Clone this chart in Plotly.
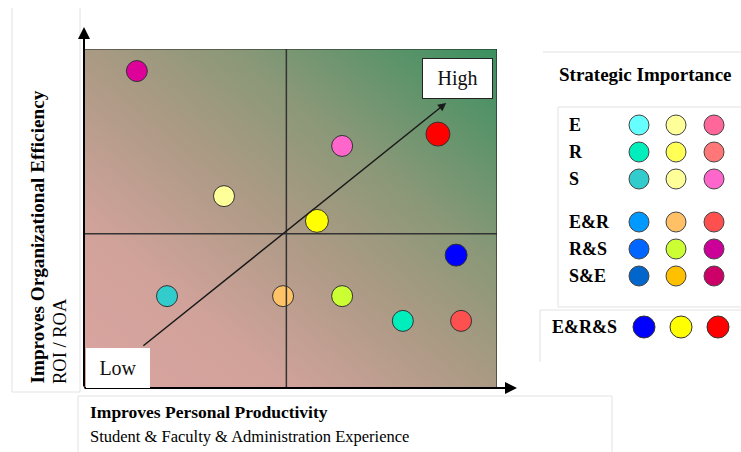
import base64
import plotly.graph_objects as go

W, H = 741, 452

# Initiatives plotted on the two improvement axes (0-10 scale)
point_x = [1.28, 6.25, 8.57, 3.39, 5.64, 9.01, 2.01, 4.82, 6.25, 7.72, 9.13]
point_y = [9.35, 7.14, 7.49, 5.66, 4.93, 3.92, 2.71, 2.71, 2.71, 1.98, 1.98]
point_colors = ["#dd0099", "#ff66cc", "#ff0000", "#ffff99", "#ffff00", "#0000ff",
                "#33cccc", "#ffc266", "#ccff33", "#00eebb", "#ff5050"]
point_sizes = [21, 21, 24, 21, 23, 22, 21, 21, 21, 21, 21]

# Strategic importance key
key_rows = ["E", "R", "S", "E&R", "R&S", "S&E"]
key_colors = [
    ["#66ffff", "#ffff99", "#ff6699"],
    ["#00eebb", "#ffff55", "#ff7777"],
    ["#33cccc", "#ffff99", "#ff66cc"],
    ["#0099ff", "#ffc066", "#ff5050"],
    ["#0066ff", "#ccff33", "#cc0099"],
    ["#0066cc", "#ffc000", "#cc0066"],
]
all_label = "E&R&S"
all_colors = ["#0000ff", "#ffff00", "#ff0000"]

y_title = "Improves Organizational Efficiency"
y_sub = "ROI / ROA"
x_title = "Improves Personal Productivity"
x_sub = "Student & Faculty & Administration Experience"

FONT = "Liberation Serif, Times New Roman, serif"

# plot area in pixels
L, R, T, B = 84, 497, 49, 388


def px(x):
    return x / W


def py(y):
    return 1 - y / H


fig = go.Figure()

# diagonal gradient background from pink (low) to green (high)
svg = (
    '<svg xmlns="http://www.w3.org/2000/svg" width="400" height="400" '
    'preserveAspectRatio="none" viewBox="0 0 400 400">'
    '<defs><linearGradient id="g" x1="0" y1="1" x2="1" y2="0">'
    '<stop offset="0" stop-color="#dba4a0"/>'
    '<stop offset="0.25" stop-color="#d0a29a"/>'
    '<stop offset="0.5" stop-color="#aa9a84"/>'
    '<stop offset="0.68" stop-color="#8a9878"/>'
    '<stop offset="1" stop-color="#3a905f"/>'
    '</linearGradient></defs>'
    '<rect width="400" height="400" fill="url(#g)"/></svg>'
)
src = "data:image/svg+xml;base64," + base64.b64encode(svg.encode()).decode()
fig.add_layout_image(dict(source=src, xref="paper", yref="paper", x=px(L), y=py(T),
                          sizex=px(R) - px(L), sizey=py(T) - py(B), xanchor="left", yanchor="top",
                          sizing="stretch", layer="below", opacity=1))

# quadrant lines
fig.add_shape(type="line", x0=4.9, x1=4.9, y0=0, y1=10, xref="x", yref="y",
              line=dict(color="#333333", width=1.5))
fig.add_shape(type="line", x0=-0.08, x1=10, y0=4.55, y1=4.55, xref="x", yref="y",
              line=dict(color="#333333", width=1.5))
# plot frame
fig.add_shape(type="rect", x0=0, x1=10, y0=0, y1=10, xref="x", yref="y",
              line=dict(color="#222222", width=1.2), fillcolor="rgba(0,0,0,0)")

# framing boxes around titles and key
grey = dict(color="#e2e2e2", width=1)
frame_lines = [
    (12, 8, 12, 392), (80, 8, 80, 392), (12, 392, 80, 392),
    (78, 396, 612, 396), (78, 396, 78, 452), (612, 396, 612, 452),
    (543, 52, 741, 52),
    (558, 107, 741, 107), (558, 107, 558, 307), (558, 307, 741, 307),
    (540, 310, 741, 310), (540, 310, 540, 362),
]
for x0, y0, x1, y1 in frame_lines:
    fig.add_shape(type="line", xref="paper", yref="paper",
                  x0=px(x0), x1=px(x1), y0=py(y0), y1=py(y1), line=grey)

# initiatives
fig.add_trace(go.Scatter(
    x=point_x, y=point_y, mode="markers", xaxis="x", yaxis="y", opacity=1,
    marker=dict(color=point_colors, size=point_sizes, opacity=1,
                line=dict(color="#333333", width=1)),
    hoverinfo="skip", showlegend=False,
))

# key swatches (pixel-positioned overlay axis)
col_x = [639, 676, 714]
row_y = [125, 152, 179, 222, 249, 276]
kx, ky, kc = [], [], []
for r, row in enumerate(key_colors):
    for c, col in enumerate(row):
        kx.append(col_x[c])
        ky.append(row_y[r])
        kc.append(col)
fig.add_trace(go.Scatter(
    x=kx, y=ky, mode="markers", xaxis="x2", yaxis="y2",
    marker=dict(color=kc, size=20, opacity=1, line=dict(color="#444444", width=1)),
    hoverinfo="skip", showlegend=False,
))
fig.add_trace(go.Scatter(
    x=[644, 681, 718], y=[327, 327, 327], mode="markers", xaxis="x2", yaxis="y2",
    marker=dict(color=all_colors, size=22, opacity=1, line=dict(color="#333333", width=1)),
    hoverinfo="skip", showlegend=False,
))

ann = []
# axes with arrowheads
ann.append(dict(xref="paper", yref="paper", x=px(L), y=py(27), ax=0, ay=B - 27,
                showarrow=True, arrowhead=2, arrowsize=1.2,
                arrowwidth=2, arrowcolor="#000000", text=""))
ann.append(dict(xref="paper", yref="paper", x=px(517), y=py(B), ax=-(517 - L + 1), ay=0,
                showarrow=True, arrowhead=2, arrowsize=1.2,
                arrowwidth=2, arrowcolor="#000000", text=""))
# low -> high arrow
ann.append(dict(xref="x", yref="y", axref="x", ayref="y", x=8.77, y=8.41, ax=1.40, ay=1.21,
                showarrow=True, arrowhead=2, arrowsize=1.1, arrowwidth=1.5,
                arrowcolor="#1a1a1a", text=""))
# low / high boxes
ann.append(dict(xref="paper", yref="paper", x=px(86), y=py(348), xanchor="left", yanchor="top",
                text="Low", showarrow=False, bgcolor="#ffffff", bordercolor="#ffffff",
                borderwidth=0, width=62, height=38, font=dict(family=FONT, size=20, color="#111")))
ann.append(dict(xref="paper", yref="paper", x=px(422), y=py(58), xanchor="left", yanchor="top",
                text="High", showarrow=False, bgcolor="#ffffff", bordercolor="#222222",
                borderwidth=1, width=67, height=37, font=dict(family=FONT, size=20, color="#111")))

# axis titles
ann.append(dict(xref="paper", yref="paper", x=px(37), y=py(386), xanchor="center", yanchor="bottom",
                textangle=-90, text="<b>" + y_title + "</b>", showarrow=False,
                font=dict(family=FONT, size=19.2, color="#000")))
ann.append(dict(xref="paper", yref="paper", x=px(60), y=py(386), xanchor="center", yanchor="bottom",
                textangle=-90, text=y_sub, showarrow=False,
                font=dict(family=FONT, size=18.5, color="#000")))
ann.append(dict(xref="paper", yref="paper", x=px(88), y=py(412), xanchor="left", yanchor="middle",
                text="<b>" + x_title + "</b>", showarrow=False,
                font=dict(family=FONT, size=17.5, color="#000")))
ann.append(dict(xref="paper", yref="paper", x=px(88), y=py(436), xanchor="left", yanchor="middle",
                text=x_sub, showarrow=False,
                font=dict(family=FONT, size=16.5, color="#000")))

# key text
ann.append(dict(xref="paper", yref="paper", x=px(645), y=py(74), xanchor="center", yanchor="middle",
                text="<b>Strategic Importance</b>", showarrow=False,
                font=dict(family=FONT, size=19, color="#000")))
for lab, yy in zip(key_rows, row_y):
    ann.append(dict(xref="paper", yref="paper", x=px(567), y=py(yy), xanchor="left", yanchor="middle",
                    text="<b>" + lab + "</b>", showarrow=False,
                    font=dict(family=FONT, size=18, color="#000")))
ann.append(dict(xref="paper", yref="paper", x=px(550), y=py(327), xanchor="left", yanchor="middle",
                text="<b>" + all_label + "</b>", showarrow=False,
                font=dict(family=FONT, size=18, color="#000")))

hidden = dict(showgrid=False, zeroline=False, showticklabels=False, showline=False, ticks="")
fig.update_layout(
    width=W, height=H, margin=dict(l=0, r=0, t=0, b=0),
    paper_bgcolor="#ffffff", plot_bgcolor="rgba(0,0,0,0)",
    xaxis=dict(domain=[px(L), px(R)], range=[0, 10], **hidden),
    yaxis=dict(domain=[py(B), py(T)], range=[0, 10], **hidden),
    xaxis2=dict(domain=[0, 1], range=[0, W], anchor="y2", **hidden),
    yaxis2=dict(domain=[0, 1], range=[H, 0], anchor="x2", **hidden),
    annotations=ann,
    showlegend=False,
)

fig.write_html("out.html")
